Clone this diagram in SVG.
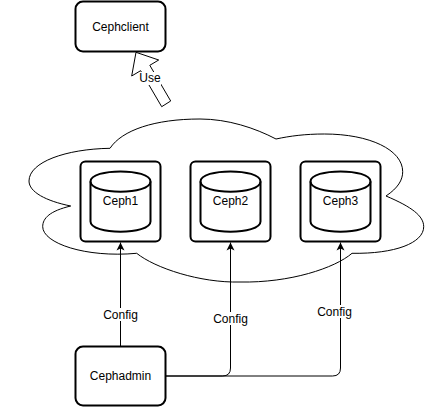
<svg xmlns="http://www.w3.org/2000/svg" width="442" height="407" viewBox="0 0 442 407">
<style>
text{font-family:"Liberation Sans",Arial,sans-serif;font-size:12px;fill:#000;text-anchor:middle}
.box{fill:#fff;stroke:#000;stroke-width:2}
.cyl{fill:#fff;stroke:#000;stroke-width:2}
.line{fill:none;stroke:#000;stroke-width:1}
.bg{fill:#fff}
</style>
<defs><marker id="arrow" markerUnits="userSpaceOnUse" markerWidth="10" markerHeight="10" refX="8" refY="4" orient="auto" viewBox="0 0 10 8"><path d="M0 0L8 4L0 8L2 4Z" fill="#000"/></marker></defs>
<g id="cloud"><path d="M110 148.3C66 149 29 162 29 181C29 192 46 201 70.7 206C50 211 42.7 218 42.7 226.7C42.7 243 85 258 136.7 253.3C155 268 200 283 240 282C290 283 335 268 352 253.3C395 254 423.7 243 423.7 226.7C423.7 216 412 207 386 196C398 188 402.7 180 402.7 171.7C402.7 150 370 134 324.3 134C305 134 290 136 276 139C255 128 228 119 200 119C155 119 122 130 110 148.3Z" fill="#fff" stroke="#000" stroke-width="1"/></g>
<g id="connectors">
<path class="line" d="M120.5 346V242.5" marker-end="url(#arrow)"/>
<path class="line" d="M165.5 376H222.5Q230.5 376 230.5 368V242.5" marker-end="url(#arrow)"/>
<path class="line" d="M165.5 376H332.5Q340.5 376 340.5 368V242.5" marker-end="url(#arrow)"/>
<path d="M136 52.3L158.7 60L149.8 65.3L170.7 101L161.7 106.7L140.6 70.7L131.7 76Z" fill="#fff" stroke="#000" stroke-width="1"/>
</g>
<g id="cephclient"><rect class="box" x="75.5" y="1.5" width="90" height="50" rx="7.5"/><text x="120.5" y="31">Cephclient</text></g>
<g id="ceph1"><rect class="box" x="80.5" y="161.5" width="80" height="80" rx="5"/><path class="cyl" d="M90.5 181.5C90.5 168 150.5 168 150.5 181.5V221.5C150.5 235 90.5 235 90.5 221.5Z"/><path class="line" stroke-width="2" style="stroke-width:2" d="M90.5 181.5C90.5 195 150.5 195 150.5 181.5"/><text x="120.5" y="205">Ceph1</text></g>
<g id="ceph2"><rect class="box" x="190.5" y="161.5" width="80" height="80" rx="5"/><path class="cyl" d="M200.5 181.5C200.5 168 260.5 168 260.5 181.5V221.5C260.5 235 200.5 235 200.5 221.5Z"/><path class="line" style="stroke-width:2" d="M200.5 181.5C200.5 195 260.5 195 260.5 181.5"/><text x="230.5" y="205">Ceph2</text></g>
<g id="ceph3"><rect class="box" x="300.5" y="161.5" width="80" height="80" rx="5"/><path class="cyl" d="M310.5 181.5C310.5 168 370.5 168 370.5 181.5V221.5C370.5 235 310.5 235 310.5 221.5Z"/><path class="line" style="stroke-width:2" d="M310.5 181.5C310.5 195 370.5 195 370.5 181.5"/><text x="340.5" y="205">Ceph3</text></g>
<g id="cephadmin"><rect class="box" x="75.5" y="346.5" width="90" height="59" rx="7.5"/><text x="120.5" y="380">Cephadmin</text></g>
<g id="labels">
<rect class="bg" x="139" y="72" width="22" height="13"/><text x="150" y="82">Use</text>
<rect class="bg" x="103" y="308" width="35" height="13"/><text x="120.5" y="319">Config</text>
<rect class="bg" x="213" y="312" width="35" height="13"/><text x="230.5" y="323">Config</text>
<rect class="bg" x="317" y="305" width="35" height="13"/><text x="334.5" y="316">Config</text>
</g>
</svg>
